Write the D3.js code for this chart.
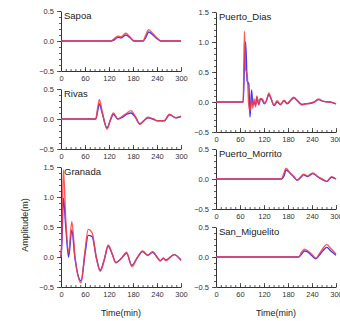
<!DOCTYPE html>
<html>
<head>
<meta charset="utf-8">
<script src="https://cdn.jsdelivr.net/npm/d3@7"></script>
<style>
  body { margin: 0; background: #fff; }
  svg { display: block; font-family: "Liberation Sans", Arial, sans-serif; }
</style>
</head>
<body>
<div id="chart"></div>
<script>
// station data: time (min), red series, blue series
const sapoaT    = [0, 125, 133, 142, 150, 162, 172, 183, 205, 212, 219, 230, 240, 250, 300];
const sapoaRed  = [0, 0, 0.04, 0.08, 0.07, 0.13, 0.07, 0, 0, 0.1, 0.19, 0.12, 0.05, 0, 0];
const sapoaBlue = [0, 0, 0.02, 0.06, 0.05, 0.1, 0.06, 0, 0, 0.06, 0.15, 0.1, 0.04, 0, 0];

const rivasT    = [0, 87, 92, 96, 103, 115, 123, 131, 142, 154, 165, 175, 186, 197, 207, 217, 230, 242, 258, 271, 287, 300];
const rivasRed  = [0, 0, 0.2, 0.32, 0.12, -0.17, -0.02, 0.1, 0.0, 0.05, 0.1, 0.14, 0.04, -0.09, -0.03, 0.03, 0.0, -0.03, -0.03, 0.08, 0.02, 0.05];
const rivasBlue = [0, 0, 0.15, 0.25, 0.1, -0.15, -0.03, 0.08, 0.0, 0.03, 0.08, 0.1, 0.03, -0.08, -0.03, 0.02, 0.0, -0.03, -0.03, 0.07, 0.02, 0.04];

const granadaT    = [0, 2, 6, 12, 19, 27, 35, 50, 60, 68, 78, 88, 98, 108, 118, 128, 137, 150, 164, 177, 190, 204, 217, 229, 242, 248, 256, 262, 283, 300];
const granadaRed  = [0, 0.3, 1.45, 0.6, 0.07, 0.59, 0.0, -0.43, 0.1, 0.46, 0.4, 0.0, -0.24, -0.05, 0.2, 0.05, -0.1, -0.03, 0.08, -0.16, -0.02, 0.1, 0.03, 0.09, -0.02, -0.07, -0.02, -0.06, 0.04, -0.06];
const granadaBlue = [0, 0.2, 0.98, 0.5, 0.0, 0.45, -0.02, -0.4, 0.05, 0.36, 0.34, 0.0, -0.22, -0.05, 0.18, 0.05, -0.09, -0.03, 0.06, -0.14, -0.02, 0.09, 0.03, 0.08, -0.02, -0.06, -0.02, -0.05, 0.04, -0.05];

const diasT    = [0, 68, 71, 74, 78, 82, 85, 89, 92, 95, 99, 102, 107, 111, 116, 121, 126, 132, 138, 145, 153, 161, 170, 178, 186, 194, 207, 215, 225, 236, 246, 256, 269, 285, 300];
const diasRed  = [0, 0, 1.18, 0.55, 0.45, -0.05, -0.15, 0.05, -0.1, 0.05, -0.08, 0.1, -0.05, 0.06, 0.05, -0.02, 0.02, 0.15, 0.05, -0.05, 0.02, -0.05, 0.03, -0.02, 0.03, 0.08, -0.01, -0.05, -0.03, -0.02, 0.0, 0.05, 0.01, 0.0, -0.03];
const diasBlue = [0, 0, 0.6, 1.0, 0.35, 0.3, -0.25, 0.2, -0.05, 0.0, -0.05, 0.08, -0.04, 0.05, 0.03, -0.03, 0.02, 0.12, 0.05, -0.06, 0.0, -0.04, 0.02, -0.03, 0.02, 0.07, 0.0, -0.04, -0.03, -0.02, 0.0, 0.04, 0.01, 0.0, -0.03];

const morritoT    = [0, 163, 170, 175, 185, 195, 203, 211, 219, 229, 236, 242, 256, 266, 277, 289, 300];
const morritoRed  = [0, 0, 0.1, 0.18, 0.1, 0.04, -0.02, 0.03, 0.08, 0.05, 0.08, 0.1, 0.03, 0.0, -0.04, 0.04, 0.0];
const morritoBlue = [0, 0, 0.05, 0.15, 0.1, 0.03, -0.02, 0.02, 0.07, 0.04, 0.07, 0.09, 0.03, -0.01, -0.04, 0.03, 0.0];

const miguelitoT    = [0, 207, 214, 221, 230, 240, 250, 258, 268, 277, 287, 300];
const miguelitoRed  = [0, 0, 0.08, 0.13, 0.1, 0.04, -0.02, 0.05, 0.15, 0.21, 0.14, 0.05];
const miguelitoBlue = [0, 0, 0.05, 0.1, 0.08, 0.02, -0.03, 0.03, 0.11, 0.16, 0.1, 0.03];

const xTicks = [0, 60, 120, 180, 240, 300];
const yTicks = [-0.5, 0, 0.5, 1.0, 1.5];

const stations = [
  { name: 'Sapoa', t: sapoaT, red: sapoaRed, blue: sapoaBlue, col: 0, top: 11, bottom: 71, ymax: 0.5 },
  { name: 'Rivas', t: rivasT, red: rivasRed, blue: rivasBlue, col: 0, top: 89, bottom: 149, ymax: 0.5 },
  { name: 'Granada', t: granadaT, red: granadaRed, blue: granadaBlue, col: 0, top: 167, bottom: 287, ymax: 1.5 },
  { name: 'Puerto_Dias', t: diasT, red: diasRed, blue: diasBlue, col: 1, top: 12, bottom: 132, ymax: 1.5 },
  { name: 'Puerto_Morrito', t: morritoT, red: morritoRed, blue: morritoBlue, col: 1, top: 149, bottom: 209, ymax: 0.5 },
  { name: 'San_Miguelito', t: miguelitoT, red: miguelitoRed, blue: miguelitoBlue, col: 1, top: 227, bottom: 287, ymax: 0.5 },
];

const cols = [[61, 181], [216, 336]];
const axisColour = '#333';
const fmt = d3.format('.1f');

const svg = d3.select('#chart')
  .append('svg')
  .attr('width', 340)
  .attr('height', 321);

function drawPanel(s) {
  const [x0, x1] = cols[s.col];
  const x = d3.scaleLinear().domain([0, 300]).range([x0, x1]);
  const y = d3.scaleLinear().domain([-0.5, s.ymax]).range([s.bottom, s.top]);

  const g = svg.append('g');

  // minor ticks
  g.append('g')
    .attr('transform', `translate(${x0},0)`)
    .call(d3.axisLeft(y).tickValues(d3.range(-0.5, s.ymax + 0.001, 0.1)).tickSize(2).tickFormat(''))
    .call((a) => a.select('.domain').remove());
  g.append('g')
    .attr('transform', `translate(0,${s.bottom})`)
    .call(d3.axisBottom(x).tickValues(d3.range(0, 301, 12)).tickSize(-2).tickFormat(''))
    .call((a) => a.select('.domain').remove());

  // major axes
  const yAxis = g.append('g')
    .attr('transform', `translate(${x0},0)`)
    .call(d3.axisLeft(y)
      .tickValues(yTicks.filter((v) => v <= s.ymax + 0.001))
      .tickSizeInner(4).tickSizeOuter(0).tickPadding(3)
      .tickFormat(fmt));
  const xAxis = g.append('g')
    .attr('transform', `translate(0,${s.bottom})`)
    .call(d3.axisBottom(x)
      .tickValues(xTicks)
      .tickSizeInner(-4).tickSizeOuter(0).tickPadding(5));

  [yAxis, xAxis].forEach((a) => {
    a.selectAll('text').attr('fill', axisColour).style('font-size', '7.5px').style('font-family', null);
    a.selectAll('line').attr('stroke', axisColour);
    a.select('.domain').attr('stroke', axisColour);
  });
  g.selectAll('line').attr('stroke', axisColour).attr('stroke-width', 0.8);

  const line = d3.line()
    .curve(d3.curveMonotoneX)
    .x((d, i) => x(s.t[i]))
    .y((d) => y(d));

  g.append('path')
    .datum(s.blue)
    .attr('fill', 'none')
    .attr('stroke', '#3a3aff')
    .attr('stroke-width', 1.4)
    .attr('d', line);
  g.append('path')
    .datum(s.red)
    .attr('fill', 'none')
    .attr('stroke', '#ff3b3b')
    .attr('stroke-opacity', 0.85)
    .attr('stroke-width', 1.4)
    .attr('d', line);

  g.append('text')
    .attr('x', x0 + 3)
    .attr('y', s.top + 8)
    .attr('fill', '#222')
    .style('font-size', '9.5px')
    .text(s.name);
}

stations.forEach(drawPanel);

// axis titles
svg.append('text')
  .attr('x', 121)
  .attr('y', 316)
  .attr('text-anchor', 'middle')
  .attr('fill', '#222')
  .style('font-size', '9px')
  .text('Time(min)');
svg.append('text')
  .attr('x', 276)
  .attr('y', 316)
  .attr('text-anchor', 'middle')
  .attr('fill', '#222')
  .style('font-size', '9px')
  .text('Time(min)');
svg.append('text')
  .attr('transform', 'translate(28,225) rotate(-90)')
  .attr('text-anchor', 'middle')
  .attr('fill', '#222')
  .style('font-size', '9px')
  .text('Amplitude(m)');
</script>
</body>
</html>
